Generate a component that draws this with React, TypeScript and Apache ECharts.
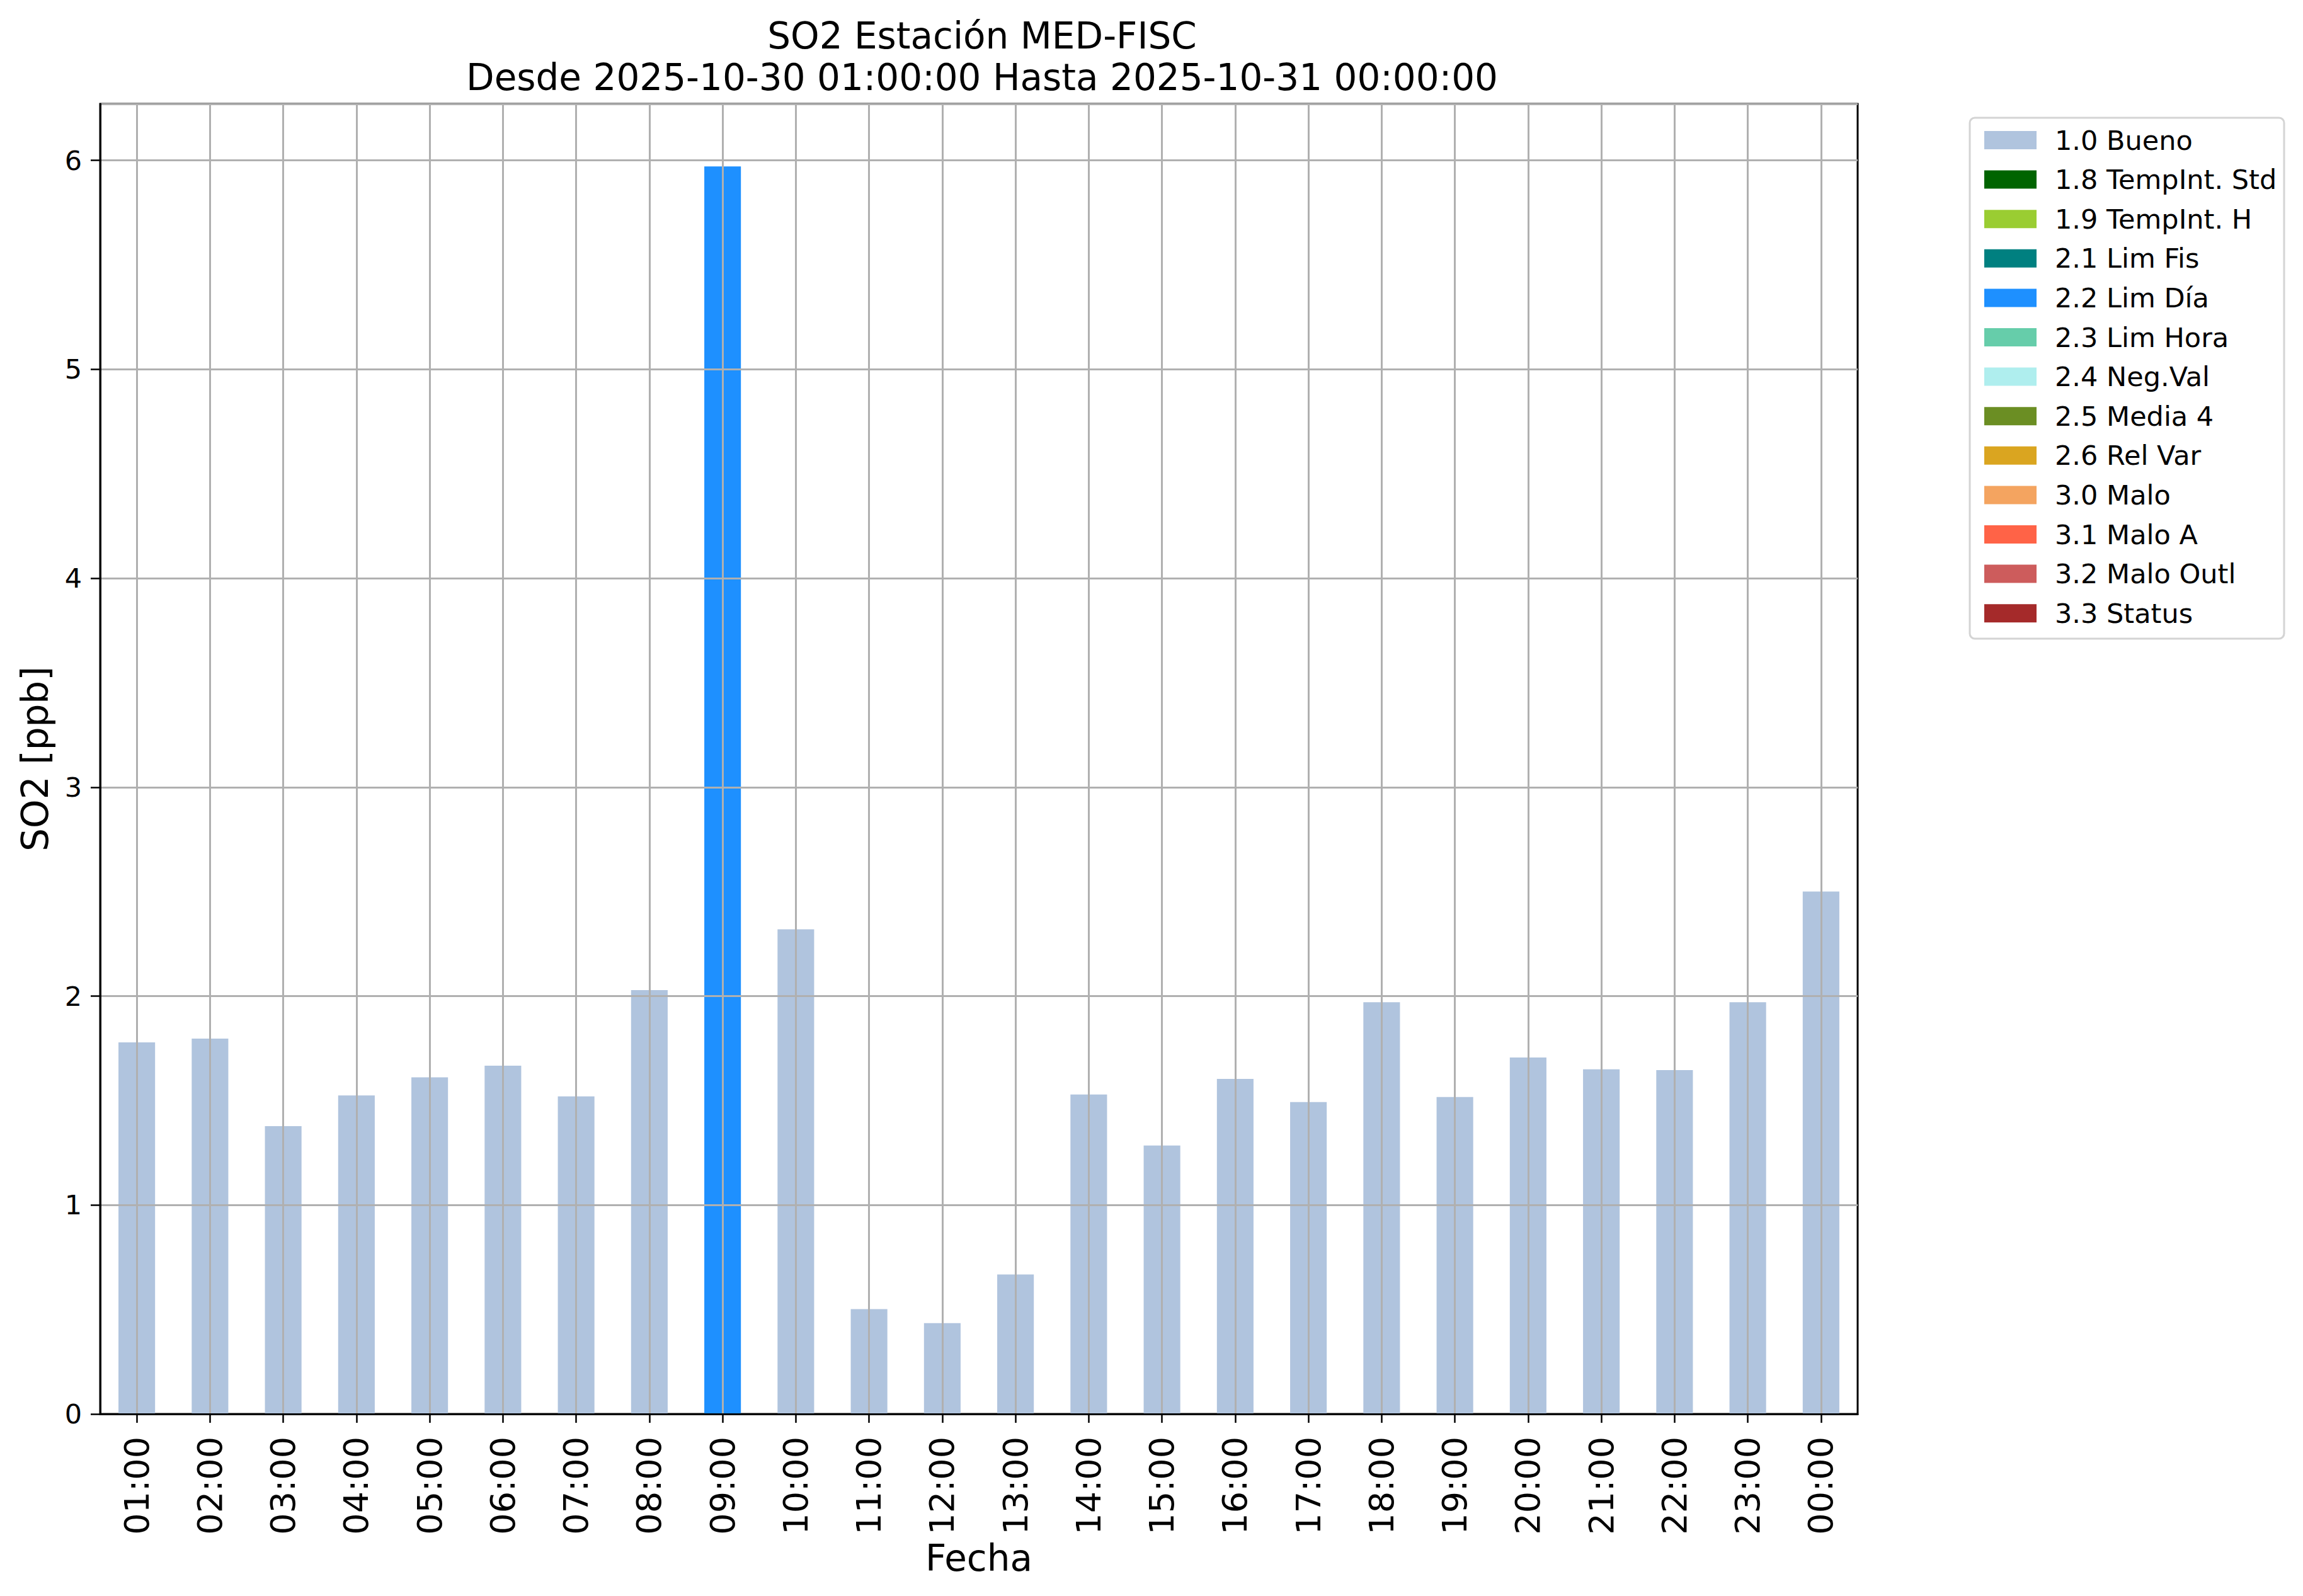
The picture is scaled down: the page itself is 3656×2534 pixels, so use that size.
import React, { useEffect, useRef } from "react";
import * as echarts from "echarts";

const hours = [
  "01:00", "02:00", "03:00", "04:00", "05:00", "06:00", "07:00", "08:00",
  "09:00", "10:00", "11:00", "12:00", "13:00", "14:00", "15:00", "16:00",
  "17:00", "18:00", "19:00", "20:00", "21:00", "22:00", "23:00", "00:00",
];

const so2Values = [
  1.779, 1.797, 1.378, 1.525, 1.611, 1.667, 1.52, 2.029,
  5.971, 2.32, 0.502, 0.435, 0.668, 1.529, 1.285, 1.604,
  1.493, 1.971, 1.517, 1.706, 1.65, 1.646, 1.971, 2.501,
];

const hourFlags = [
  "1.0 Bueno", "1.0 Bueno", "1.0 Bueno", "1.0 Bueno", "1.0 Bueno", "1.0 Bueno", "1.0 Bueno", "1.0 Bueno",
  "2.2 Lim Día", "1.0 Bueno", "1.0 Bueno", "1.0 Bueno", "1.0 Bueno", "1.0 Bueno", "1.0 Bueno", "1.0 Bueno",
  "1.0 Bueno", "1.0 Bueno", "1.0 Bueno", "1.0 Bueno", "1.0 Bueno", "1.0 Bueno", "1.0 Bueno", "1.0 Bueno",
];

const flagNames = [
  "1.0 Bueno", "1.8 TempInt. Std", "1.9 TempInt. H", "2.1 Lim Fis", "2.2 Lim Día",
  "2.3 Lim Hora", "2.4 Neg.Val", "2.5 Media 4", "2.6 Rel Var", "3.0 Malo",
  "3.1 Malo A", "3.2 Malo Outl", "3.3 Status",
];

const flagColors = [
  "#B0C4DE", "#006400", "#9ACD32", "#008080", "#1E90FF",
  "#66CDAA", "#AFEEEE", "#6B8E23", "#DAA520", "#F4A460",
  "#FF6347", "#CD5C5C", "#A52A2A",
];

const yMax = 6.2705;
const titleText = "SO2 Estación MED-FISC\nDesde 2025-10-30 01:00:00 Hasta 2025-10-31 00:00:00";
const FONT = "DejaVu Sans";

export default function App() {
  const ref = useRef<HTMLDivElement>(null);

  useEffect(() => {
    if (!ref.current) return;
    const chart = echarts.init(ref.current, undefined, { renderer: "svg" });

    const barSeries = flagNames.map((name, k) => ({
      name,
      type: "bar",
      stack: "total",
      barWidth: "50%",
      itemStyle: { color: flagColors[k] },
      emphasis: { disabled: true },
      z: 2,
      data: hours.map((h, i) => (hourFlags[i] === name ? so2Values[i] : "-")),
    }));

    const option: any = {
      animation: false,
      backgroundColor: "#ffffff",
      textStyle: { fontFamily: FONT },
      title: {
        text: titleText,
        left: 1554,
        top: 19,
        textAlign: "center",
        textStyle: {
          fontFamily: FONT,
          fontSize: 58,
          fontWeight: "normal",
          color: "#000",
          lineHeight: 66,
        },
      },
      grid: {
        left: 159,
        right: 707,
        top: 165,
        bottom: 289,
        show: true,
        borderColor: "#000",
        borderWidth: 3,
        backgroundColor: "transparent",
        containLabel: false,
      },
      legend: {
        data: flagNames,
        orient: "vertical",
        left: 3145,
        top: 196,
        itemWidth: 83,
        itemHeight: 29,
        itemGap: 19.6,
        icon: "rect",
        selectedMode: false,
        textStyle: {
          fontFamily: FONT,
          fontSize: 43,
          color: "#000",
          padding: [0, 0, 0, 24],
        },
      },
      graphic: [
        {
          type: "rect",
          z: -1,
          shape: { x: 3127, y: 187, width: 499, height: 827, r: 8 },
          style: { fill: "#ffffff", stroke: "#d4d4d4", lineWidth: 3 },
          silent: true,
        },
      ],
      xAxis: {
        type: "category",
        data: hours,
        boundaryGap: true,
        name: "Fecha",
        nameLocation: "middle",
        nameGap: 192,
        nameTextStyle: { fontFamily: FONT, fontSize: 58, color: "#000" },
        axisLine: { show: true, lineStyle: { color: "#000", width: 3 } },
        axisTick: { show: true, alignWithLabel: true, length: 14, lineStyle: { color: "#000", width: 2.5 } },
        axisLabel: {
          rotate: 90,
          interval: 0,
          margin: 36,
          fontFamily: FONT,
          fontSize: 54,
          color: "#000",
        },
        splitLine: { show: false },
        z: 5,
      },
      yAxis: {
        type: "value",
        min: 0,
        max: yMax,
        interval: 1,
        name: "SO2 [ppb]",
        nameLocation: "middle",
        nameGap: 74,
        nameRotate: 90,
        nameTextStyle: { fontFamily: FONT, fontSize: 58, color: "#000" },
        axisLine: { show: true, lineStyle: { color: "#000", width: 3 } },
        axisTick: { show: true, length: 15, lineStyle: { color: "#000", width: 2.5 } },
        axisLabel: {
          margin: 29,
          fontFamily: FONT,
          fontSize: 43,
          color: "#000",
          showMaxLabel: false,
          formatter: (v: number) => (Number.isInteger(v) ? String(v) : ""),
        },
        splitLine: { show: true, lineStyle: { color: "#b0b0b0", width: 3 } },
        z: 5,
      },
      series: [
        ...barSeries,
        {
          name: "vgrid",
          type: "line",
          data: hours.map(() => "-"),
          symbol: "none",
          silent: true,
          z: 4,
          markLine: {
            silent: true,
            symbol: ["none", "none"],
            label: { show: false },
            emphasis: { disabled: true },
            lineStyle: { color: "#b0b0b0", width: 3, type: "solid" },
            data: hours.map((h) => ({ xAxis: h })),
          },
        },
      ],
    };

    chart.setOption(option);
    return () => chart.dispose();
  }, []);

  return (
    <div
      ref={ref}
      style={{ position: "fixed", left: 0, top: 0, width: 3656, height: 2534, background: "#fff" }}
    />
  );
}
